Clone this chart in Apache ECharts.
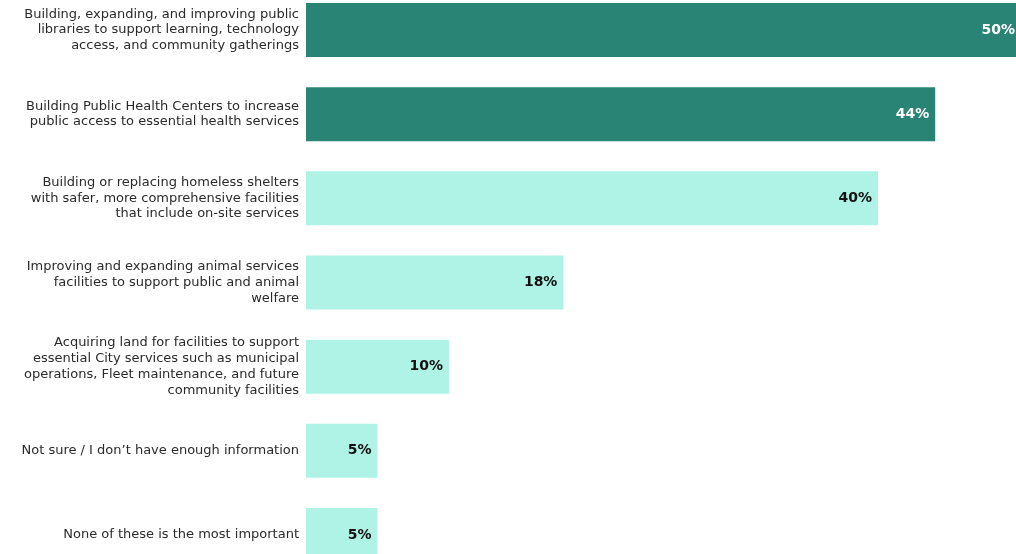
<!DOCTYPE html>
<html>
<head>
<meta charset="utf-8">
<script src="https://cdn.jsdelivr.net/npm/echarts@6/dist/echarts.min.js"></script>
<style>
html,body{margin:0;padding:0;background:#fff;overflow:hidden;width:1016px;height:554px}
#c{position:absolute;left:0;top:-12px;width:1021px;height:589px}
</style>
</head>
<body>
<div id="c"></div>
<script>
var categories = [
  "Building, expanding, and improving public\nlibraries to support learning, technology\naccess, and community gatherings",
  "Building Public Health Centers to increase\npublic access to essential health services",
  "Building or replacing homeless shelters\nwith safer, more comprehensive facilities\nthat include on-site services",
  "Improving and expanding animal services\nfacilities to support public and animal\nwelfare",
  "Acquiring land for facilities to support\nessential City services such as municipal\noperations, Fleet maintenance, and future\ncommunity facilities",
  "Not sure / I don\u2019t have enough information",
  "None of these is the most important"
];
var values = [50, 44, 40, 18, 10, 5, 5];
var highlighted = [true, true, false, false, false, false, false];

var DARK = '#2a8475', LIGHT = '#aff3e6';
var chart = echarts.init(document.getElementById('c'));
chart.setOption({
  animation: false,
  grid: { left: 306, top: 0, bottom: 0, right: 0, containLabel: false },
  xAxis: { type: 'value', min: 0, max: 50, show: false },
  yAxis: {
    type: 'category', inverse: true, data: categories,
    axisLine: { show: false }, axisTick: { show: false },
    axisLabel: { margin: 7, color: '#2a2a2a', fontFamily: 'DejaVu Sans', fontSize: 13, lineHeight: 15.7, align: 'right' }
  },
  series: [{
    type: 'bar',
    barWidth: 54,
    data: values.map(function (v, i) {
      return {
        value: v,
        itemStyle: { color: highlighted[i] ? DARK : LIGHT },
        label: { color: highlighted[i] ? '#fff' : '#111' }
      };
    }),
    label: {
      show: true, position: 'insideRight', distance: 6,
      fontFamily: 'DejaVu Sans', fontWeight: 'bold', fontSize: 14,
      formatter: function (p) { return p.value + '%'; }
    }
  }]
});
</script>
</body>
</html>
